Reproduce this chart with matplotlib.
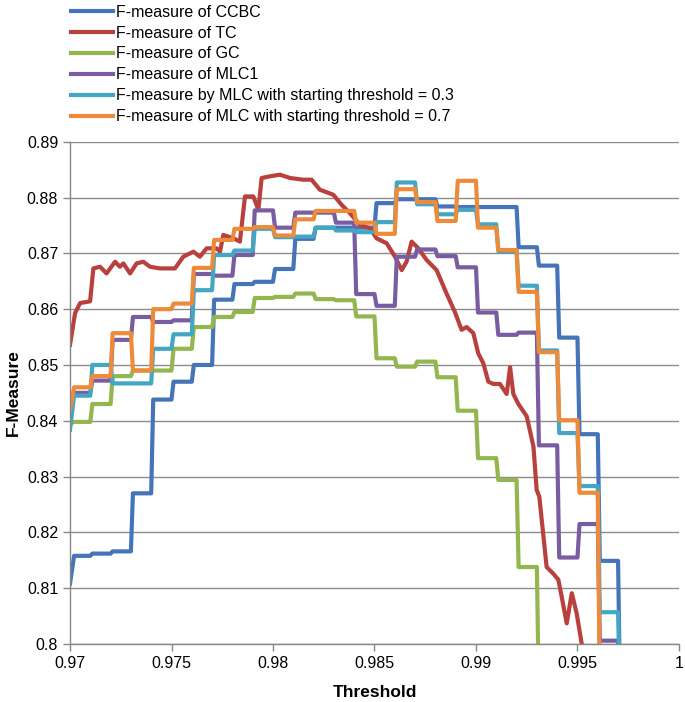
import numpy as np
import matplotlib
matplotlib.use("Agg")
import matplotlib.pyplot as plt

plt.rcParams['font.family'] = ['Liberation Sans', 'DejaVu Sans']

# umbrales (pasos de 0.001)
thr = np.round(np.arange(0.970, 0.9975, 0.001), 3)

# valores por escalon, empezando en 0.970
ccbc_start = 0.8108
ccbc = [0.8158, 0.8162, 0.8166, 0.8270, 0.8438, 0.8470, 0.8500, 0.8617, 0.8645,
        0.8649, 0.8672, 0.8726, 0.8746, 0.8746, 0.8746, 0.8790, 0.8797, 0.8797,
        0.8784, 0.8783, 0.8783, 0.8783, 0.8711, 0.8678, 0.8549, 0.8376, 0.8149]

gc_start = 0.8395
gc = [0.8398, 0.8430, 0.8480, 0.8490, 0.8490, 0.8529, 0.8568, 0.8586, 0.8595,
      0.8620, 0.8622, 0.8628, 0.8618, 0.8616, 0.8587, 0.8512, 0.8497, 0.8506,
      0.8478, 0.8418, 0.8333, 0.8294, 0.8138]

mlc1_start = 0.8425
mlc1 = [0.8450, 0.8472, 0.8545, 0.8586, 0.8577, 0.8580, 0.8663, 0.8660, 0.8697,
        0.8777, 0.8746, 0.8773, 0.8773, 0.8755, 0.8627, 0.8606, 0.8694, 0.8707,
        0.8695, 0.8675, 0.8594, 0.8554, 0.8558, 0.8356, 0.8155, 0.8215, 0.8006]

mlc03_start = 0.8384
mlc03 = [0.8445, 0.8500, 0.8467, 0.8467, 0.8529, 0.8555, 0.8634, 0.8697, 0.8705,
         0.8744, 0.8729, 0.8730, 0.8746, 0.8741, 0.8738, 0.8756, 0.8827, 0.8788,
         0.8770, 0.8778, 0.8752, 0.8704, 0.8642, 0.8526, 0.8378, 0.8283, 0.8057]

mlc07_start = 0.8420
mlc07 = [0.8460, 0.8480, 0.8557, 0.8490, 0.8600, 0.8610, 0.8674, 0.8724, 0.8744,
         0.8747, 0.8732, 0.8761, 0.8776, 0.8776, 0.8755, 0.8735, 0.8815, 0.8792,
         0.8758, 0.8830, 0.8746, 0.8706, 0.8631, 0.8523, 0.8401, 0.8271]

# TC no es escalonada
tc_x = [0.97000, 0.97025, 0.97050, 0.97099, 0.97115, 0.97148, 0.97180, 0.97222,
        0.97246, 0.97263, 0.97296, 0.97328, 0.97361, 0.97394, 0.97443, 0.97517,
        0.97558, 0.97608, 0.97640, 0.97673, 0.97722, 0.97739, 0.97755, 0.97805,
        0.97837, 0.97862, 0.97903, 0.97928, 0.97944, 0.97985, 0.98034, 0.98084,
        0.98149, 0.98190, 0.98231, 0.98297, 0.98338, 0.98379, 0.98428, 0.98478,
        0.98510, 0.98560, 0.98601, 0.98634, 0.98658, 0.98683, 0.98716, 0.98757,
        0.98806, 0.98855, 0.98896, 0.98929, 0.98954, 0.98987, 0.99011, 0.99036,
        0.99061, 0.99086, 0.99118, 0.99151, 0.99168, 0.99184, 0.99209, 0.99250,
        0.99283, 0.99299, 0.99312, 0.99324, 0.99348, 0.99381, 0.99406, 0.99422,
        0.99447, 0.99472, 0.99496, 0.99521]
tc_y = [0.8536, 0.8593, 0.8611, 0.8614, 0.8673, 0.8676, 0.8664, 0.8685,
        0.8676, 0.8682, 0.8664, 0.8682, 0.8685, 0.8676, 0.8673, 0.8673,
        0.8694, 0.8703, 0.8694, 0.8709, 0.8709, 0.8703, 0.8733, 0.8727,
        0.8721, 0.8802, 0.8802, 0.8778, 0.8835, 0.8838, 0.8841, 0.8835,
        0.8832, 0.8832, 0.8814, 0.8805, 0.8787, 0.8772, 0.8751, 0.8745,
        0.8727, 0.8718, 0.8694, 0.8670, 0.8685, 0.8721, 0.8709, 0.8688,
        0.8670, 0.8628, 0.8595, 0.8563, 0.8568, 0.8557, 0.8521, 0.8503,
        0.8470, 0.8466, 0.8466, 0.8448, 0.8496, 0.8448, 0.8430, 0.8408,
        0.8354, 0.8276, 0.8264, 0.8222, 0.8138, 0.8126, 0.8115, 0.8085,
        0.8037, 0.8091, 0.8055, 0.8000]

labels = ["F-measure of CCBC", "F-measure of TC", "F-measure of GC",
          "F-measure of MLC1", "F-measure by MLC with starting threshold = 0.3",
          "F-measure of MLC with starting threshold = 0.7"]
colores = ["#4674b8", "#b8413e", "#94b64f", "#7a5ca0", "#43a6c2", "#ee8b3a"]


def escalones(start, vals):
    # cada escalon sube/baja en 0.0001 como en la grafica original
    xs, ys = [thr[0]], [start]
    for i, v in enumerate(vals):
        xs += [thr[i] + 0.0002 if i == 0 else thr[i] + 0.0001, thr[i + 1]]
        ys += [v, v]
    xs.append(thr[len(vals)] + 0.0001)
    ys.append(0.79)
    return xs, ys


fig = plt.figure(figsize=(6.85, 7.02), dpi=100)
ax = fig.add_axes([0.1022, 0.0826, 0.889, 0.7155])

series = [escalones(ccbc_start, ccbc), (tc_x, tc_y), escalones(gc_start, gc),
          escalones(mlc1_start, mlc1), escalones(mlc03_start, mlc03),
          escalones(mlc07_start, mlc07)]
for (xs, ys), lab, c in zip(series, labels, colores):
    ax.plot(xs, ys, color=c, lw=3, label=lab, solid_joinstyle='round')

ax.set_xlim(0.97, 1.0)
ax.set_ylim(0.8, 0.89)
yt = [0.8, 0.81, 0.82, 0.83, 0.84, 0.85, 0.86, 0.87, 0.88, 0.89]
xt = [0.97, 0.975, 0.98, 0.985, 0.99, 0.995, 1.0]
ax.set_yticks(yt)
ax.set_yticklabels([f"{v:g}" for v in yt])
ax.set_xticks(xt)
ax.set_xticklabels([f"{v:g}" for v in xt])
ax.tick_params(labelsize=11.5, colors="#878787", labelcolor="black", length=5, width=1)
ax.yaxis.grid(True, color="#8c8c8c", lw=1)
ax.set_axisbelow(True)
for s in ["top", "right"]:
    ax.spines[s].set_visible(False)
for s in ["left", "bottom"]:
    ax.spines[s].set_color("#878787")
    ax.spines[s].set_linewidth(1)

ax.set_xlabel("Threshold", fontsize=12.5, fontweight="bold", labelpad=10)
ax.set_ylabel("F-Measure", fontsize=12.5, fontweight="bold", labelpad=4)

fig.legend(loc="upper left", bbox_to_anchor=(0.095, 1.0025), frameon=False,
           fontsize=11.5, handlelength=2.6, handletextpad=0.2, labelspacing=0.37,
           borderaxespad=0)

fig.savefig("out.png", dpi=100)
